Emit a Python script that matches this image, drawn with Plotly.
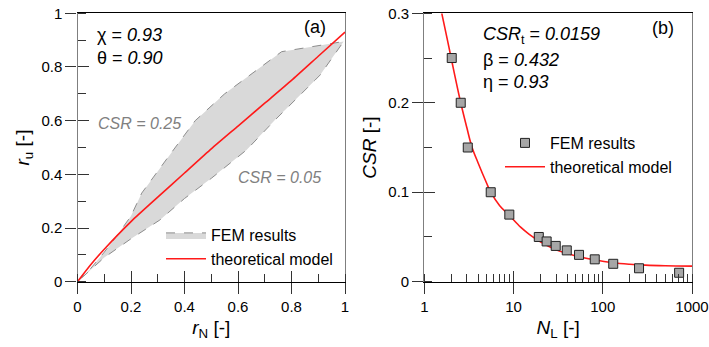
import plotly.graph_objects as go

# ---------------- data: panel (a) ----------------
band_upper_rN = [0.0, 0.05, 0.10, 0.15, 0.20, 0.24, 0.34, 0.44, 0.55, 0.763, 0.995]
band_upper_ru = [0.0, 0.05, 0.11, 0.175, 0.245, 0.33, 0.466, 0.60, 0.70, 0.857, 0.895]
band_lower_rN = [0.995, 0.907, 0.888, 0.738, 0.632, 0.50, 0.40, 0.308, 0.20, 0.10, 0.0]
band_lower_ru = [0.895, 0.770, 0.751, 0.602, 0.491, 0.385, 0.31, 0.23, 0.16, 0.09, 0.0]

model_rN = [0.0, 0.05, 0.10, 0.20, 0.30, 0.40, 0.50, 0.60, 0.70, 0.80, 0.90, 1.0]
model_ru = [0.0, 0.064, 0.121, 0.224, 0.315, 0.405, 0.495, 0.58, 0.665, 0.75, 0.84, 0.93]

# ---------------- data: panel (b) ----------------
fem_NL = [2.03, 2.56, 3.07, 5.55, 8.97, 19.2, 23.5, 29.7, 39.5, 54.2, 81.3, 131, 255, 717]
fem_CSR = [0.25, 0.20, 0.15, 0.10, 0.075, 0.05, 0.045, 0.04, 0.035, 0.03, 0.025, 0.02, 0.015, 0.01]

curve_NL = [1.57, 1.8, 2.0, 2.56, 3.0, 3.43, 4.0, 5.0, 5.55, 7.0, 9.0, 12, 15, 20, 30, 50, 80, 130, 200, 300, 500, 1000]
curve_CSR = [0.30, 0.272, 0.25, 0.20, 0.172, 0.15, 0.133, 0.11, 0.10, 0.085, 0.074, 0.061, 0.053, 0.0447, 0.0357,
             0.0288, 0.0245, 0.0212, 0.0195, 0.0185, 0.0178, 0.0174]

FONT = "Liberation Sans, Arial, sans-serif"
RED = "#ff1a1a"
AX_BLACK = "#000000"
AX_GRAY = "#7f7f7f"
TICK_C = "#333333"

fig = go.Figure()

# band (FEM results)
fig.add_trace(go.Scatter(
    x=band_upper_rN + band_lower_rN, y=band_upper_ru + band_lower_ru,
    mode="lines", fill="toself", fillcolor="#d9d9d9",
    line=dict(color="#8c8c8c", width=1, dash="dash"),
    name="FEM results", legend="legend", xaxis="x", yaxis="y", hoverinfo="skip"))
fig.add_trace(go.Scatter(
    x=model_rN, y=model_ru, mode="lines", line=dict(color=RED, width=1.6, shape="spline", smoothing=0.6),
    name="theoretical model", legend="legend", xaxis="x", yaxis="y"))

# panel (b)
fig.add_trace(go.Scatter(
    x=curve_NL, y=curve_CSR, mode="lines", line=dict(color=RED, width=1.6, shape="spline"),
    name="theoretical model", legend="legend2", legendrank=2, xaxis="x2", yaxis="y2",
    cliponaxis=True))
fig.add_trace(go.Scatter(
    x=fem_NL, y=fem_CSR, mode="markers",
    marker=dict(symbol="square", size=9, color="#a6a6a6", line=dict(color="#222222", width=1)),
    name="FEM results", legend="legend2", legendrank=1, xaxis="x2", yaxis="y2",
    cliponaxis=False))

# invisible traces to host the overlay (inner-tick) axes
fig.add_trace(go.Scatter(x=model_rN, y=model_ru, mode="lines", opacity=0, showlegend=False,
                         hoverinfo="skip", xaxis="x3", yaxis="y3"))
fig.add_trace(go.Scatter(x=curve_NL, y=curve_CSR, mode="lines", opacity=0, showlegend=False,
                         hoverinfo="skip", xaxis="x4", yaxis="y4"))

W, H = 709, 347
dxa = [77.5 / W, 345 / W]
dxb = [424.3 / W, 692 / W]
dy = [(H - 281.7) / H, (H - 13.3) / H]

tickfont = dict(family=FONT, size=15, color="#000000")
titlefont = dict(family=FONT, size=19, color="#000000")

common_x = dict(showgrid=False, zeroline=False, ticks="outside", ticklen=11, tickwidth=1,
                tickcolor=TICK_C, tickfont=tickfont, showline=True, linecolor=AX_BLACK,
                linewidth=1.2, mirror=True, title_font=titlefont, title_standoff=6,
                automargin=False)
common_y = dict(showgrid=False, zeroline=False, ticks="outside", ticklen=11, tickwidth=1,
                tickcolor=TICK_C, tickfont=tickfont, showline=True, linecolor=AX_GRAY,
                linewidth=1.2, mirror=True, title_font=titlefont, title_standoff=6,
                automargin=False)
overlay = dict(showticklabels=False, showgrid=False, zeroline=False, showline=False,
               ticks="inside", ticklen=11, tickwidth=1, tickcolor=TICK_C, automargin=False)

fig.update_layout(
    width=W, height=H, margin=dict(l=0, r=0, t=0, b=0, autoexpand=False),
    paper_bgcolor="white", plot_bgcolor="white",
    font=dict(family=FONT, color="#000000"),
    xaxis=dict(common_x, domain=dxa, range=[0, 1], dtick=0.2, anchor="y",
               minor=dict(ticks="inside", ticklen=8, dtick=0.1, tickcolor=TICK_C, showgrid=False),
               title=dict(text="<i>r</i><sub>N</sub> [-]")),
    yaxis=dict(common_y, domain=dy, range=[0, 1], dtick=0.2, anchor="x",
               minor=dict(ticks="inside", ticklen=8, dtick=0.1, tickcolor=TICK_C, showgrid=False),
               title=dict(text="<i>r</i><sub>u</sub> [-]")),
    xaxis3=dict(overlay, overlaying="x", anchor="y3", range=[0, 1], dtick=0.2),
    yaxis3=dict(overlay, overlaying="y", anchor="x3", range=[0, 1], dtick=0.2),
    xaxis2=dict(common_x, domain=dxb, type="log", range=[0, 3], dtick=1, anchor="y2",
                minor=dict(ticks="inside", ticklen=8, tickcolor=TICK_C, showgrid=False),
                title=dict(text="<i>N</i><sub>L</sub> [-]")),
    yaxis2=dict(common_y, domain=dy, range=[0, 0.3], dtick=0.1, anchor="x2",
                minor=dict(ticks="inside", ticklen=8, dtick=0.05, tickcolor=TICK_C, showgrid=False),
                title=dict(text="<i>CSR</i> [-]")),
    xaxis4=dict(overlay, overlaying="x2", anchor="y4", type="log", range=[0, 3], dtick=1),
    yaxis4=dict(overlay, overlaying="y2", anchor="x4", range=[0, 0.3], dtick=0.1),
    legend=dict(x=161 / W, y=(H - 218) / H, xanchor="left", yanchor="top",
                bgcolor="rgba(0,0,0,0)", font=dict(family=FONT, size=16), itemwidth=40,
                tracegroupgap=0),
    legend2=dict(x=500 / W, y=(H - 126) / H, xanchor="left", yanchor="top",
                 bgcolor="rgba(0,0,0,0)", font=dict(family=FONT, size=16), itemwidth=40,
                 tracegroupgap=0),
    showlegend=True,
)

ann_font = dict(family=FONT, size=18, color="#000000")
gray_font = dict(family=FONT, size=16, color="#808080")
annotations = [
    dict(text="χ = <i>0.93</i>", x=95 / W, y=(H - 35) / H),
    dict(text="θ = <i>0.90</i>", x=95 / W, y=(H - 58) / H),
    dict(text="(a)", x=302 / W, y=(H - 27) / H),
    dict(text="<i>CSR</i><sub>t</sub> = <i>0.0159</i>", x=481 / W, y=(H - 35) / H),
    dict(text="β = <i>0.432</i>", x=481 / W, y=(H - 60) / H),
    dict(text="η = <i>0.93</i>", x=481 / W, y=(H - 82) / H),
    dict(text="(b)", x=650 / W, y=(H - 28) / H),
]
for a in annotations:
    fig.add_annotation(xref="paper", yref="paper", xanchor="left", yanchor="middle",
                       showarrow=False, font=ann_font, **a)
fig.add_annotation(text="<i>CSR = 0.25</i>", xref="paper", yref="paper", x=96 / W, y=(H - 123) / H,
                   xanchor="left", yanchor="middle", showarrow=False, font=gray_font)
fig.add_annotation(text="<i>CSR = 0.05</i>", xref="paper", yref="paper", x=236 / W, y=(H - 177) / H,
                   xanchor="left", yanchor="middle", showarrow=False, font=gray_font)

fig.write_html("out.html", config={"displayModeBar": False},
               post_script="document.body.style.margin='0';document.body.style.padding='0';")
